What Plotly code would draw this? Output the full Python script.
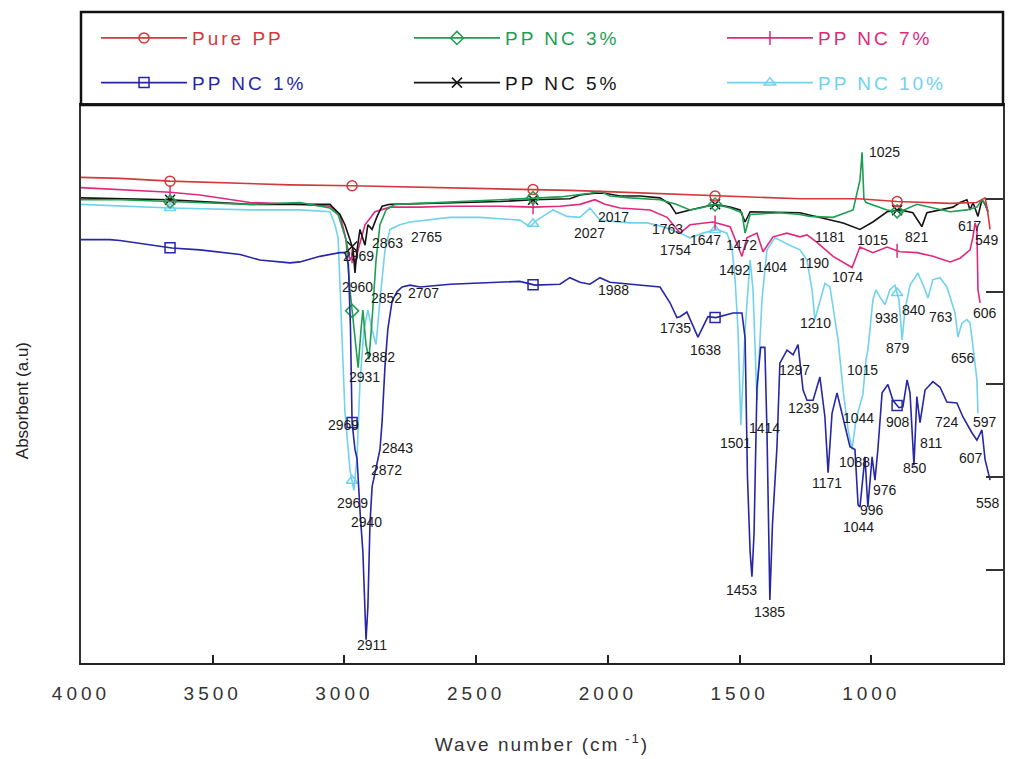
import numpy as np
import plotly.graph_objects as go

# ---------------- data (wavenumber cm-1, absorbance a.u.) ----------------
MARK_WN = [3662, 2971, 2284, 1593, 902]

pure_wn = [4000, 3852, 3662, 3548, 3396, 3207, 2971, 2800, 2599, 2409, 2284, 2144, 2030, 1840,
           1593, 1450, 1271, 1050, 902, 700, 600, 568, 560, 549]
pure_ab = [5.23, 5.22, 5.19, 5.18, 5.17, 5.15, 5.14, 5.13, 5.12, 5.11, 5.10, 5.09, 5.08, 5.06,
           5.03, 5.02, 5.00, 5.00, 4.97, 4.95, 4.96, 5.01, 4.90, 4.67]

nc1_wn = [4000, 3890, 3852, 3738, 3655, 3548, 3396, 3321, 3207, 3169, 3093, 3017, 2998, 2985, 2977,
          2971, 2960, 2952, 2945, 2940, 2930, 2918, 2911, 2903, 2895, 2884, 2876, 2865, 2857, 2846,
          2835, 2819, 2800, 2781, 2751, 2713, 2599, 2485, 2409, 2334, 2277, 2182, 2144, 2106, 2068,
          2030, 1992, 1954, 1878, 1802, 1764, 1738, 1726, 1700, 1658, 1620, 1590, 1525, 1491, 1479,
          1470, 1460, 1453, 1445, 1434, 1420, 1404, 1396, 1385, 1375, 1358, 1347, 1320, 1297, 1278,
          1259, 1244, 1221, 1195, 1176, 1164, 1149, 1130, 1107, 1081, 1062, 1050, 1043, 1024, 1013,
          997, 986, 975, 959, 937, 918, 895, 880, 864, 853, 838, 827, 815, 796, 766, 739, 713, 675,
          652, 618, 599, 580, 568, 549]
nc1_ab = [4.56, 4.56, 4.55, 4.50, 4.47, 4.45, 4.40, 4.34, 4.31, 4.32, 4.38, 4.42, 4.42, 4.30, 3.60,
          2.59, 2.30, 2.20, 1.75, 1.60, 1.20, 0.25, 0.60, 1.50, 1.90, 2.05, 2.15, 2.30, 2.60, 3.20,
          3.60, 3.90, 4.00, 4.05, 4.07, 4.05, 4.08, 4.09, 4.10, 4.11, 4.07, 4.08, 4.15, 4.10, 4.08,
          4.15, 4.10, 4.09, 4.07, 4.05, 3.88, 3.72, 3.73, 3.78, 3.51, 3.73, 3.72, 3.77, 3.77, 3.50,
          2.00, 1.20, 0.93, 1.40, 2.97, 3.40, 3.40, 2.50, 0.68, 1.50, 2.33, 3.23, 3.37, 3.32, 3.43,
          2.94, 2.83, 2.83, 3.08, 2.65, 2.05, 2.69, 2.91, 2.65, 2.33, 2.30, 1.70, 1.68, 2.22, 1.68,
          2.22, 1.97, 2.30, 2.91, 3.00, 2.83, 2.75, 2.76, 3.05, 2.91, 2.13, 2.87, 2.59, 2.94, 3.03,
          2.97, 2.81, 2.80, 2.65, 2.48, 2.40, 2.51, 2.19, 1.97]

nc3_wn = [4000, 3852, 3662, 3358, 3169, 3055, 3024, 3009, 2994, 2979, 2960, 2948, 2937, 2930, 2918,
          2907, 2895, 2880, 2865, 2842, 2808, 2713, 2409, 2277, 2182, 2068, 2030, 1992, 1916, 1802,
          1741, 1688, 1650, 1590, 1536, 1491, 1479, 1460, 1347, 1271, 1233, 1145, 1069, 1043, 1035,
          1028, 1020, 940, 891, 827, 766, 701, 637, 599, 580, 568, 557]
nc3_ab = [4.99, 4.99, 4.97, 4.94, 4.96, 4.90, 4.83, 4.70, 4.56, 4.02, 3.48, 3.18, 3.59, 3.80, 3.43,
          3.27, 3.70, 4.34, 4.72, 4.88, 4.94, 4.95, 4.99, 5.01, 5.02, 5.06, 5.08, 5.03, 5.01, 4.99,
          4.94, 4.88, 4.90, 4.94, 4.90, 4.85, 4.63, 4.83, 4.85, 4.83, 4.81, 4.80, 4.88, 5.20, 5.50,
          5.00, 4.96, 4.88, 4.86, 4.94, 4.90, 4.86, 4.88, 4.91, 4.99, 4.95, 4.86]

nc5_wn = [4000, 3852, 3662, 3358, 3169, 3055, 3017, 2998, 2979, 2967, 2960, 2952, 2941, 2922, 2911,
          2895, 2876, 2857, 2827, 2713, 2409, 2284, 2144, 2106, 2049, 2011, 1954, 1878, 1802, 1764,
          1741, 1688, 1593, 1536, 1498, 1479, 1460, 1271, 1195, 1107, 1043, 994, 940, 891, 842,
          808, 789, 739, 690, 663, 637, 625, 614, 595, 580, 568, 557]
nc5_ab = [5.01, 5.00, 4.99, 4.94, 4.94, 4.94, 4.83, 4.72, 4.56, 4.45, 4.20, 4.45, 4.67, 4.50, 4.72,
          4.67, 4.81, 4.92, 4.94, 4.95, 4.97, 4.99, 5.00, 5.04, 5.06, 5.06, 5.03, 5.03, 5.01, 4.94,
          4.84, 4.88, 4.94, 4.91, 4.88, 4.75, 4.86, 4.85, 4.80, 4.74, 4.67, 4.75, 4.86, 4.88, 4.85,
          4.70, 4.85, 4.88, 4.91, 4.96, 4.99, 4.88, 4.96, 4.81, 4.99, 4.94, 4.86]

nc7_wn = [4000, 3852, 3662, 3548, 3358, 3169, 3055, 3017, 2998, 2979, 2967, 2960, 2948, 2922, 2884,
          2827, 2713, 2599, 2409, 2284, 2182, 2106, 2049, 2011, 1954, 1840, 1775, 1726, 1688, 1601,
          1536, 1491, 1472, 1434, 1411, 1373, 1320, 1271, 1244, 1206, 1145, 1073, 1043, 994, 940,
          891, 827, 766, 701, 663, 625, 614, 606, 599, 595, 587]
nc7_ab = [5.12, 5.10, 5.07, 5.04, 4.96, 4.94, 4.92, 4.83, 4.61, 4.34, 4.40, 4.29, 4.45, 4.72, 4.86,
          4.91, 4.91, 4.92, 4.92, 4.91, 4.92, 4.94, 4.99, 4.94, 4.90, 4.88, 4.80, 4.63, 4.72, 4.75,
          4.70, 4.38, 4.58, 4.63, 4.43, 4.59, 4.63, 4.59, 4.61, 4.53, 4.38, 4.26, 4.48, 4.42, 4.48,
          4.43, 4.42, 4.38, 4.32, 4.36, 4.45, 4.59, 4.74, 4.67, 4.02, 3.88]

nc10_wn = [4000, 3852, 3662, 3358, 3169, 3055, 3036, 3024, 3009, 2998, 2979, 2964, 2952, 2941, 2926,
           2911, 2895, 2880, 2865, 2846, 2827, 2789, 2751, 2599, 2485, 2334, 2296, 2269, 2208, 2155,
           2106, 2068, 2030, 1916, 1851, 1791, 1726, 1688, 1639, 1586, 1548, 1529, 1517, 1506, 1495,
           1479, 1460, 1449, 1434, 1415, 1396, 1366, 1309, 1271, 1244, 1225, 1214, 1195, 1176, 1157,
           1126, 1107, 1088, 1073, 1058, 1043, 1032, 1020, 1013, 1005, 994, 982, 967, 948, 929,
           910, 895, 883, 872, 853, 823, 796, 785, 766, 739, 713, 682, 671, 656, 637,
           625, 614, 599, 595]
nc10_ab = [4.94, 4.92, 4.90, 4.88, 4.88, 4.86, 4.72, 4.58, 3.59, 2.70, 2.08, 1.86, 2.22, 3.02, 3.59,
           3.80, 3.59, 3.43, 3.91, 4.45, 4.67, 4.72, 4.75, 4.80, 4.80, 4.77, 4.70, 4.77, 4.88, 4.81,
           4.80, 4.90, 4.77, 4.74, 4.74, 4.70, 4.63, 4.58, 4.63, 4.67, 4.63, 4.48, 4.13, 3.59, 2.56,
           3.59, 4.34, 4.02, 2.83, 3.91, 4.45, 4.58, 4.50, 4.45, 4.34, 4.02, 3.70, 3.91, 4.09, 4.05,
           3.48, 2.94, 2.51, 2.30, 2.62, 2.78, 2.89, 3.27, 3.37, 3.59, 3.91, 4.02, 3.94, 3.86, 4.02,
           4.07, 3.91, 3.48, 3.80, 4.07, 4.20, 4.02, 3.93, 4.13, 4.15, 4.05, 3.77, 3.51, 3.66, 3.70,
           3.66, 3.41, 3.05, 2.69]

# peak labels: (text, wavenumber, absorbance)
peak_text = ["1025", "2969", "2863", "2765", "2960", "2852", "2707", "2882", "2931", "2969",
             "2843", "2872", "2969", "2940", "2911", "2027", "2017", "1763", "1754", "1647",
             "1472", "1492", "1404", "1190", "1181", "1015", "821", "617", "549", "1074",
             "1210", "938", "840", "763", "606", "879", "656", "1015", "1297", "1239",
             "1044", "1414", "1501", "908", "724", "597", "1088", "811", "607", "1171",
             "850", "976", "996", "1044", "558", "1988", "1735", "1638", "1453", "1385"]
peak_x = [948, 2948, 2838, 2687, 2952, 2842, 2698, 2865, 2922, 3005,
          2800, 2842, 2971, 2918, 2895, 2068, 1977, 1772, 1745, 1631,
          1491, 1521, 1377, 1217, 1157, 994, 827, 625, 561, 1092,
          1210, 940, 838, 735, 568, 898, 652, 1035, 1290, 1256,
          1047, 1404, 1517, 898, 713, 568, 1062, 773, 621, 1168,
          834, 948, 997, 1050, 557, 1977, 1745, 1631, 1491, 1385]
peak_y = [5.50, 4.38, 4.52, 4.59, 4.05, 3.93, 3.98, 3.30, 3.08, 2.56,
          2.32, 2.08, 1.72, 1.52, 0.19, 4.63, 4.80, 4.67, 4.45, 4.56,
          4.50, 4.23, 4.27, 4.31, 4.59, 4.56, 4.59, 4.71, 4.56, 4.16,
          3.66, 3.72, 3.80, 3.73, 3.77, 3.39, 3.29, 3.16, 3.16, 2.75,
          2.64, 2.53, 2.37, 2.60, 2.60, 2.60, 2.17, 2.37, 2.21, 1.94,
          2.10, 1.86, 1.65, 1.47, 1.72, 4.02, 3.61, 3.37, 0.79, 0.55]

x_ticks = [4000, 3500, 3000, 2500, 2000, 1500, 1000, 500]
y_ticks = [1, 2, 3, 4, 5]

# ---------------- styles ----------------
series = [
    dict(name="PP NC 10%", wn=nc10_wn, ab=nc10_ab, color="#72D2EE", symbol="triangle-up-open", legend="legend3"),
    dict(name="PP NC 7%", wn=nc7_wn, ab=nc7_ab, color="#E0297C", symbol="line-ns-open", legend="legend3"),
    dict(name="PP NC 5%", wn=nc5_wn, ab=nc5_ab, color="#151515", symbol="x-thin-open", legend="legend2"),
    dict(name="PP NC 3%", wn=nc3_wn, ab=nc3_ab, color="#1E9E52", symbol="diamond-open", legend="legend2"),
    dict(name="Pure PP", wn=pure_wn, ab=pure_ab, color="#D2383C", symbol="circle-open", legend="legend"),
    dict(name="PP NC 1%", wn=nc1_wn, ab=nc1_ab, color="#2626A6", symbol="square-open", legend="legend"),
]
legend_order = ["Pure PP", "PP NC 1%", "PP NC 3%", "PP NC 5%", "PP NC 7%", "PP NC 10%"]
by_name = {s["name"]: s for s in series}

fig = go.Figure()
for s in series:
    wn = np.array(s["wn"], dtype=float)
    ab = np.array(s["ab"], dtype=float)
    fig.add_trace(go.Scatter(x=wn, y=ab, mode="lines", name=s["name"], showlegend=False,
                             legendgroup=s["name"], line=dict(color=s["color"], width=1.6)))
    my = np.interp(MARK_WN, wn[::-1], ab[::-1])
    fig.add_trace(go.Scatter(x=MARK_WN, y=my, mode="markers", showlegend=False,
                             legendgroup=s["name"], name=s["name"],
                             marker=dict(symbol=s["symbol"], size=10, color=s["color"],
                                         line=dict(color=s["color"], width=1.5))))

for nm in legend_order:
    s = by_name[nm]
    fig.add_trace(go.Scatter(
        x=[None], y=[None], mode="lines+markers", legendgroup=nm, legend=s["legend"],
        name=f"<span style='color:{s['color']};letter-spacing:3px'>{nm}</span>",
        line=dict(color=s["color"], width=1.6),
        marker=dict(symbol=s["symbol"], size=10, color=s["color"], line=dict(color=s["color"], width=1.5))))

for t, x, y in zip(peak_text, peak_x, peak_y):
    fig.add_annotation(x=x, y=y, text=t, showarrow=False,
                       font=dict(family="Liberation Sans", size=14, color="#1a1a1a"))

tick_text = [f"<span style='letter-spacing:4px'>{v}</span>" for v in x_ticks]

legend_common = dict(orientation="v", xanchor="left", yanchor="top", bgcolor="rgba(0,0,0,0)",
                     borderwidth=0, font=dict(family="Liberation Sans", size=19),
                     itemwidth=86, traceorder="grouped", tracegroupgap=17,
                     itemclick=False, itemdoubleclick=False)

LEG_Y = 1.154
fig.update_layout(
    width=1024, height=759,
    margin=dict(l=81, r=21, t=105, b=96, autoexpand=False),
    paper_bgcolor="white", plot_bgcolor="white",
    showlegend=True,
    legend=dict(x=0.0163, y=LEG_Y, **legend_common),
    legend2=dict(x=0.3557, y=LEG_Y, **legend_common),
    legend3=dict(x=0.6952, y=LEG_Y, **legend_common),
    xaxis=dict(range=[4000, 500], tickvals=x_ticks, ticktext=tick_text, ticks="inside", ticklen=8,
               tickwidth=1.5, tickcolor="#222", showline=True, linecolor="#222", linewidth=2,
               mirror=True, showgrid=False, zeroline=False, ticklabelstandoff=12,
               tickfont=dict(family="Liberation Sans", size=19, color="#333"),
               title=dict(text="<span style='letter-spacing:2px'>Wave number (cm<sup> -1</sup>)</span>",
                          font=dict(family="Liberation Sans", size=19, color="#333"), standoff=35)),
    yaxis=dict(range=[0, 6.01], tickvals=y_ticks, ticks="inside", ticklen=17, tickwidth=1.5,
               tickcolor="#333", side="right", showticklabels=False, showline=True,
               linecolor="#333", linewidth=1.5, mirror=True, showgrid=False, zeroline=False),
)

fig.add_annotation(xref="paper", yref="paper", x=-0.064, y=0.471, xanchor="center", yanchor="middle",
                   text="Absorbent (a.u)", textangle=-90, showarrow=False,
                   font=dict(family="Liberation Sans", size=17, color="#222"))

fig.add_shape(type="rect", xref="paper", yref="paper", x0=0, x1=1, y0=1, y1=(663 - 12) / 558,
              line=dict(color="#111", width=2.5), fillcolor="rgba(0,0,0,0)")

fig.write_html("out.html", config={"displayModeBar": False},
               post_script="document.body.style.margin='0px';")
